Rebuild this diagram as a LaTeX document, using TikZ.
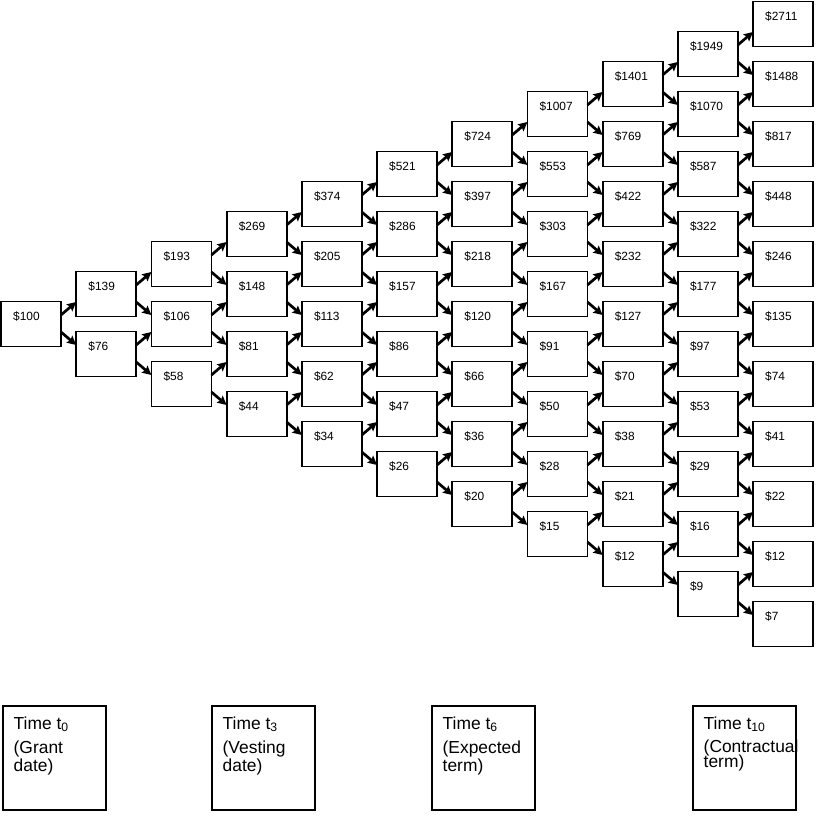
\documentclass[tikz,border=0pt]{standalone}
\usepackage{fontspec}
\setmainfont{Liberation Sans}
\usetikzlibrary{arrows.meta}
\begin{document}
\begin{tikzpicture}[x=1pt,y=-1pt,
  valbox/.style={draw, line width=1.8pt, minimum width=60pt, minimum height=45pt, inner sep=0pt, outer sep=0pt},
  valtxt/.style={anchor=base west, inner sep=0pt, font=\fontsize{11.9}{14}\selectfont},
  arr/.style={line width=2.7pt, -{Stealth[length=9pt,width=9pt,inset=1.5pt]}},
  timebox/.style={draw, line width=1.8pt, minimum width=103pt, minimum height=104pt, inner sep=0pt, outer sep=0pt, anchor=north west},
  timetxt/.style={anchor=base west, inner sep=0pt, font=\fontsize{17.4}{17}\selectfont}]
\useasboundingbox (0,0) rectangle (815,817);

\foreach \i/\jj/\v in {
  0/0/100,
  1/0/139, 1/1/76,
  2/0/193, 2/1/106, 2/2/58,
  3/0/269, 3/1/148, 3/2/81, 3/3/44,
  4/0/374, 4/1/205, 4/2/113, 4/3/62, 4/4/34,
  5/0/521, 5/1/286, 5/2/157, 5/3/86, 5/4/47, 5/5/26,
  6/0/724, 6/1/397, 6/2/218, 6/3/120, 6/4/66, 6/5/36, 6/6/20,
  7/0/1007, 7/1/553, 7/2/303, 7/3/167, 7/4/91, 7/5/50, 7/6/28, 7/7/15,
  8/0/1401, 8/1/769, 8/2/422, 8/3/232, 8/4/127, 8/5/70, 8/6/38, 8/7/21, 8/8/12,
  9/0/1949, 9/1/1070, 9/2/587, 9/3/322, 9/4/177, 9/5/97, 9/6/53, 9/7/29, 9/8/16, 9/9/9,
  10/0/2711, 10/1/1488, 10/2/817, 10/3/448, 10/4/246, 10/5/135, 10/6/74, 10/7/41, 10/8/22, 10/9/12, 10/10/7}{
  \node[valbox] (n-\i-\jj) at ({31+75.2*\i},{324-30*\i+60*\jj}) {};
  \node[valtxt] (t-\i-\jj) at ([xshift=12pt,yshift=-19pt]n-\i-\jj.north west) {\$\v};
}

\foreach \i in {0,...,9}{
  \foreach \jj in {0,...,\i}{
    \pgfmathtruncatemacro\ni{\i+1}
    \pgfmathtruncatemacro\nj{\jj+1}
    \draw[arr] ([yshift=9pt]n-\i-\jj.east) -- ([yshift=-8pt]n-\ni-\jj.west);
    \draw[arr] ([yshift=-8pt]n-\i-\jj.east) -- ([yshift=9pt]n-\ni-\nj.west);
  }
}

\node[timebox] (b0) at (3,706) {};
\node[timebox] (b3) at (212,706) {};
\node[timebox] (b6) at (432,706) {};
\node[timebox] (b10) at (693,706) {};

\node[timetxt] (b0a) at (13.5,729) {Time t\textsubscript{0}};
\node[timetxt] (b0b) at (13.5,753) {(Grant};
\node[timetxt] (b0c) at (13.5,771) {date)};

\node[timetxt] (b3a) at (222.5,729) {Time t\textsubscript{3}};
\node[timetxt] (b3b) at (222.5,753) {(Vesting};
\node[timetxt] (b3c) at (222.5,771) {date)};

\node[timetxt] (b6a) at (442.5,729) {Time t\textsubscript{6}};
\node[timetxt] (b6b) at (442.5,753) {(Expected};
\node[timetxt] (b6c) at (442.5,771) {term)};

\node[timetxt] (b10a) at (703.5,729) {Time t\textsubscript{10}};
\node[timetxt] (b10b) at (703.5,752) {(Contractual};
\node[timetxt] (b10c) at (703.5,767) {term)};
\end{tikzpicture}
\end{document}
